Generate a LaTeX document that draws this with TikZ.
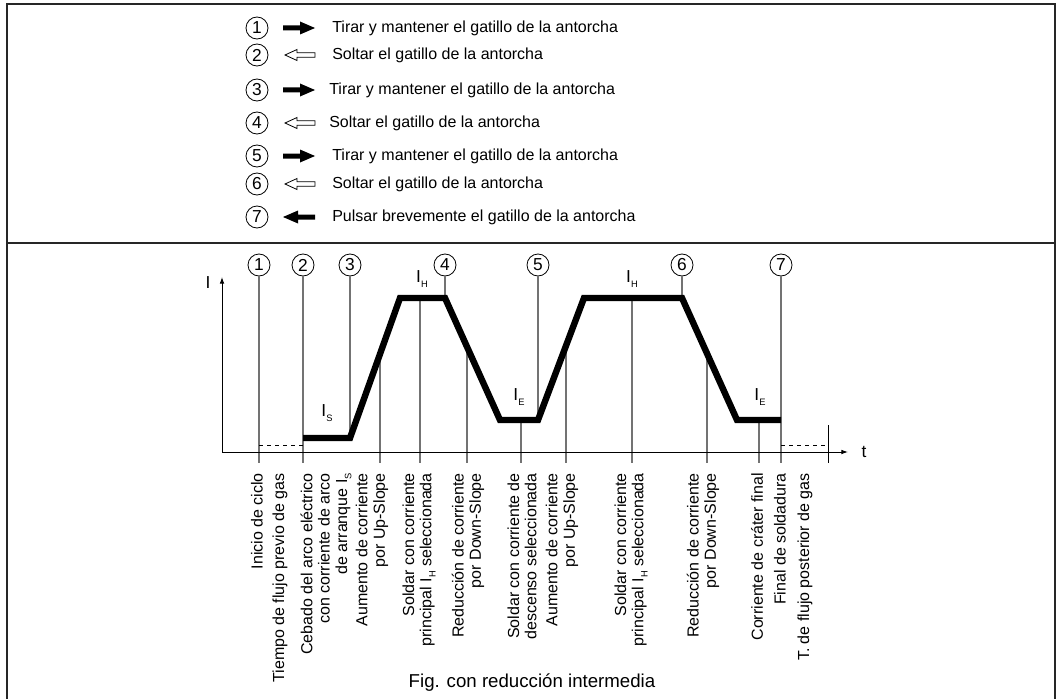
\documentclass[tikz,border=0pt]{standalone}
\usepackage{fontspec}
\setmainfont{Liberation Sans}
\usetikzlibrary{arrows.meta}
\newcommand{\lowidx}[1]{\raisebox{-0.5ex}{\fontsize{7}{7}\selectfont #1}}
\tikzset{
  frame/.style={line width=1.6pt,black!85},
  num/.style={circle,draw,line width=0.6pt,inner sep=0pt,minimum size=16.5pt,font=\fontsize{13}{13}\selectfont},
  legend/.style={anchor=west,inner sep=0pt,font=\fontsize{12}{12}\selectfont},
  marker/.style={black!55,line width=0.9pt},
  trace/.style={line width=4.8pt},
  axis/.style={line width=0.7pt,-{Latex[length=5pt,width=3.5pt]}},
  phase/.style={rotate=90,anchor=east,align=right,inner sep=0pt,font=\fontsize{12}{13}\selectfont},
  level/.style={font=\fontsize{13}{13}\selectfont},
  pullarrow/.pic={\fill (0,-2.5) -- (17,-2.5) -- (17,-6.5) -- (32,0) -- (17,6.5) -- (17,2.5) -- (0,2.5) -- cycle;},
  releasearrow/.pic={\draw[line width=0.6pt] (0,0) -- (12,-5.5) -- (12,-2.3) -- (30,-2.3) -- (30,2.3) -- (12,2.3) -- (12,5.5) -- cycle;},
  taparrow/.pic={\fill (0,0) -- (15,-6.5) -- (15,-2.5) -- (32,-2.5) -- (32,2.5) -- (15,2.5) -- (15,6.5) -- cycle;}
}
\begin{document}
\begin{tikzpicture}[x=0.75pt,y=-0.75pt]
  \useasboundingbox (0,0) rectangle (1056,699);
  % frame
  \draw[frame] (7,699) -- (7,4) -- (1055,4) -- (1055,699);
  \draw[frame,line width=2.2pt] (7,243) -- (1055,243);

  % legend
  \node[num] (k1) at (257,28) {1};
  \pic at (283,28) {pullarrow};
  \node[legend] (t1) at (332,28) {Tirar y mantener el gatillo de la antorcha};
  \node[num] (k2) at (257,55) {2};
  \pic at (285,55) {releasearrow};
  \node[legend] (t2) at (332,55) {Soltar el gatillo de la antorcha};
  \node[num] (k3) at (257,90) {3};
  \pic at (283,90) {pullarrow};
  \node[legend] (t3) at (329,90) {Tirar y mantener el gatillo de la antorcha};
  \node[num] (k4) at (257,123) {4};
  \pic at (285,123) {releasearrow};
  \node[legend] (t4) at (329,123) {Soltar el gatillo de la antorcha};
  \node[num] (k5) at (257,156) {5};
  \pic at (283,156) {pullarrow};
  \node[legend] (t5) at (332,156) {Tirar y mantener el gatillo de la antorcha};
  \node[num] (k6) at (257,184) {6};
  \pic at (285,184) {releasearrow};
  \node[legend] (t6) at (332,184) {Soltar el gatillo de la antorcha};
  \node[num] (k7) at (257,217) {7};
  \pic at (283,217) {taparrow};
  \node[legend] (t7) at (332,217) {Pulsar brevemente el gatillo de la antorcha};

  % markers above the chart
  \node[num] (m1) at (259,265) {1};
  \node[num] (m2) at (303,265) {2};
  \node[num] (m3) at (350,265) {3};
  \node[num] (m4) at (445,265) {4};
  \node[num] (m5) at (538,265) {5};
  \node[num] (m6) at (682,265) {6};
  \node[num] (m7) at (781,265) {7};

  % current trace
  \coordinate (p0) at (303,438);
  \coordinate (p1) at (350,438);
  \coordinate (p2) at (400,298);
  \coordinate (p3) at (445,298);
  \coordinate (p4) at (500,420);
  \coordinate (p5) at (538,420);
  \coordinate (p6) at (584,298);
  \coordinate (p7) at (682,298);
  \coordinate (p8) at (737,420);
  \coordinate (p9) at (781,420);
  \coordinate (s1) at (380,354);
  \coordinate (s2) at (420,298);
  \coordinate (s3) at (467,347);
  \coordinate (s4) at (521,420);
  \coordinate (s5) at (566,346);
  \coordinate (s6) at (632,298);
  \coordinate (s7) at (707,353);
  \coordinate (s8) at (759,420);
  \coordinate (b) at (0,463);

  \draw[marker] (m1) -- (m1 |- b);
  \draw[marker] (m2) -- (m2 |- b);
  \draw[marker] (m3) -- (p1);
  \draw[marker] (m4) -- (p3);
  \draw[marker] (m5) -- (p5);
  \draw[marker] (m6) -- (p7);
  \draw[marker] (m7) -- (m7 |- b);
  \draw[marker] (s1) -- (s1 |- b);
  \draw[marker] (s2) -- (s2 |- b);
  \draw[marker] (s3) -- (s3 |- b);
  \draw[marker] (s4) -- (s4 |- b);
  \draw[marker] (s5) -- (s5 |- b);
  \draw[marker] (s6) -- (s6 |- b);
  \draw[marker] (s7) -- (s7 |- b);
  \draw[marker] (s8) -- (s8 |- b);
  \coordinate (g1) at (828,425);
  \draw[line width=0.7pt] (g1) -- (g1 |- b);
  \coordinate (q1) at (259,445);
  \coordinate (q2) at (781,445);
  \draw[dashed,line width=0.7pt] (q1) -- (m2 |- q1);
  \draw[dashed,line width=0.7pt] (q2) -- (g1 |- q2);

  % axes
  \coordinate (O) at (222,452);
  \coordinate (Itop) at (222,277);
  \coordinate (tend) at (848,452);
  \draw[axis] (O) -- (Itop);
  \draw[axis] (O) -- (tend);
  \node[level] (Ilab) at (208,283) {I};
  \node[level] (tlab) at (864,452) {t};

  \draw[trace] (p0) -- (p1) -- (p2) -- (p3) -- (p4) -- (p5) -- (p6) -- (p7) -- (p8) -- (p9);

  \node[level] (IS) at (327,413) {I\lowidx{S}};
  \node[level] (IH1) at (422,279) {I\lowidx{H}};
  \node[level] (IE1) at (519,397) {I\lowidx{E}};
  \node[level] (IH2) at (632,279) {I\lowidx{H}};
  \node[level] (IE2) at (760,397) {I\lowidx{E}};

  % phases
  \node[phase] (f1) at (257,473) {Inicio de ciclo};
  \node[phase] (f2) at (280,473) {Tiempo de flujo previo de gas};
  \node[phase] (f3) at (326,473) {Cebado del arco eléctrico\\con corriente de arco\\de arranque I\lowidx{S}};
  \node[phase] (f4) at (372,473) {Aumento de corriente\\por Up-Slope};
  \node[phase] (f5) at (419,473) {Soldar con corriente\\principal I\lowidx{H} seleccionada};
  \node[phase] (f6) at (468,473) {Reducción de corriente\\por Down-Slope};
  \node[phase] (f7) at (522,473) {Soldar con corriente de\\descenso seleccionada};
  \node[phase] (f8) at (562,473) {Aumento de corriente\\por Up-Slope};
  \node[phase] (f9) at (631,473) {Soldar con corriente\\principal I\lowidx{H} seleccionada};
  \node[phase] (f10) at (703,473) {Reducción de corriente\\por Down-Slope};
  \node[phase] (f11) at (757,473) {Corriente de cráter final};
  \node[phase] (f12) at (780,473) {Final de soldadura};
  \node[phase] (f13) at (805,473) {T. de flujo posterior de gas};

  \node[font=\fontsize{14}{14}\selectfont] (cap) at (532,683) {Fig. con reducción intermedia};
\end{tikzpicture}
\end{document}
